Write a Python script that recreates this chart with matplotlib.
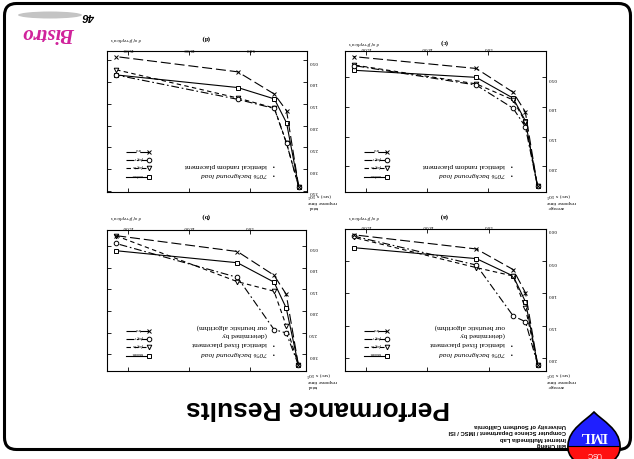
import matplotlib
matplotlib.use('Agg')
import matplotlib.pyplot as plt
from matplotlib.patches import FancyBboxPatch, PathPatch, Ellipse, Rectangle
from matplotlib.path import Path

plt.rcParams['font.family'] = ['Liberation Serif', 'DejaVu Serif']

W, H = 634, 460

# ---------------- data (upright values) ----------------
replicas = [1, 2, 3, 6, 16]
series_names = ['random', 'plug-in', 'plug-v', 'best']

a_random = [2.11, 1.13, 0.73, 0.46, 0.29]
a_plug_in = [2.11, 1.23, 0.73, 0.60, 0.13]
a_plug_v = [2.11, 1.44, 1.35, 0.56, 0.11]
a_best = [2.11, 0.99, 0.63, 0.31, 0.09]

b_random = [3.25, 1.93, 1.33, 0.88, 0.60]
b_plug_in = [3.25, 2.34, 1.54, 1.32, 0.25]
b_plug_v = [3.25, 2.51, 2.43, 1.22, 0.43]
b_best = [3.25, 1.61, 1.17, 0.62, 0.25]

c_random = [2.34, 1.23, 0.85, 0.50, 0.38]
c_plug_in = [2.34, 1.25, 0.88, 0.61, 0.29]
c_plug_v = [2.34, 1.33, 1.02, 0.63, 0.30]
c_best = [2.34, 1.08, 0.75, 0.35, 0.15]

d_random = [3.41, 1.94, 1.39, 1.13, 0.84]
d_plug_in = [3.41, 2.40, 1.60, 1.37, 0.72]
d_plug_v = [3.41, 2.41, 1.61, 1.40, 0.84]
d_best = [3.41, 1.66, 1.28, 0.77, 0.42]

x_ticks = [5, 10, 15]
yticks_a = [0.0, 0.5, 1.0, 1.5, 2.0]
yticks_b = [0.5, 1.0, 1.5, 2.0, 2.5, 3.0]
yticks_c = [0.5, 1.0, 1.5, 2.0]
yticks_d = [0.5, 1.0, 1.5, 2.0, 2.5, 3.0, 3.5]

panel_labels = ['(a)', '(b)', '(c)', '(d)']
x_label = "# of \u03b2-replica's"
ylabel_avg = ['average', 'response time', '(sec) x 10\u00b3']
ylabel_tot = ['total', 'response time', '(sec) x 10\u00b3']
note_fixed = ['70% background load', 'identical fixed placement', '(determined by', 'our heuristic algorithm)']
note_random = ['70% background load', 'identical random placement']

title = 'Performance Results'
author_lines = ['Bill Cheng', 'Internet Multimedia Lab',
                'Computer Science Department / IMSC / ISI',
                'University of Southern California']
page_no = '46'
brand = 'Bistro'

# ---------------- styles ----------------
styles = {
    'random': dict(ls='-', marker='s'),
    'plug-in': dict(ls=(0, (4, 3)), marker='v'),
    'plug-v': dict(ls=(0, (7, 2.5, 1.5, 2.5)), marker='o'),
    'best': dict(ls=(0, (9, 3.5)), marker='x'),
}

panels = [
    dict(rect=(344.7, 230.0, 545.7, 372.3), ylim=(0.0, 2.21), yticks=yticks_a,
         data=[a_random, a_plug_in, a_plug_v, a_best], label=panel_labels[0],
         ylab=ylabel_avg, note=note_fixed, lab_dy=14),
    dict(rect=(106.7, 231.0, 306.3, 372.3), ylim=(0.12, 3.40), yticks=yticks_b,
         data=[b_random, b_plug_in, b_plug_v, b_best], label=panel_labels[1],
         ylab=ylabel_tot, note=note_fixed, lab_dy=15),
    dict(rect=(344.7, 51.7, 545.5, 193.3), ylim=(0.05, 2.44), yticks=yticks_c,
         data=[c_random, c_plug_in, c_plug_v, c_best], label=panel_labels[2],
         ylab=ylabel_avg, note=note_random, lab_dy=10),
    dict(rect=(106.7, 52.3, 306.7, 193.3), ylim=(0.30, 3.53), yticks=yticks_d,
         data=[d_random, d_plug_in, d_plug_v, d_best], label=panel_labels[3],
         ylab=ylabel_tot, note=note_random, lab_dy=14),
]

fig = plt.figure(figsize=(W / 100, H / 100), dpi=100)
fig.patch.set_facecolor('white')

for p in panels:
    L, T, R, B = p['rect']
    ax = fig.add_axes([L / W, 1 - B / H, (R - L) / W, (B - T) / H])
    for name, vals in zip(series_names, p['data']):
        st = styles[name]
        ax.plot(replicas, vals, color='black', lw=0.8, ls=st['ls'],
                marker=st['marker'], ms=3.3, mfc='white', mec='black', mew=0.7)
    # whole chart is upside-down: invert both axes
    ax.set_xlim(16.73, 0.35)
    ax.set_ylim(p['ylim'][1], p['ylim'][0])
    ax.set_xticks(x_ticks)
    ax.set_xticklabels(['%.2f' % v for v in x_ticks])
    ax.set_yticks(p['yticks'])
    ax.set_yticklabels(['%.2f' % v for v in p['yticks']])
    ax.tick_params(axis='x', direction='in', top=True, bottom=True,
                   labeltop=True, labelbottom=False, labelrotation=180,
                   length=3, width=0.6, labelsize=3.6, pad=1.2)
    ax.tick_params(axis='y', direction='in', left=True, right=True,
                   labelright=True, labelleft=False, labelrotation=180,
                   length=3, width=0.6, labelsize=3.6, pad=1.5)
    for s in ax.spines.values():
        s.set_linewidth(0.8)
    # legend (drawn in axes fraction coords)
    w_ax, h_ax = R - L, B - T
    rows = {'best': 40.6, 'plug-v': 32.2, 'plug-in': 24.0, 'random': 15.6}
    for name in series_names:
        st = styles[name]
        yy = rows[name] / h_ax
        x0, x1 = 19.5 / w_ax, 42.5 / w_ax
        ax.plot([x0, x1], [yy, yy], transform=ax.transAxes, color='black',
                lw=0.8, ls=st['ls'])
        ax.plot([x1], [yy], transform=ax.transAxes, color='black', ls='none',
                marker=st['marker'], ms=3.3, mfc='white', mec='black', mew=0.7)
        ax.text((x0 + x1) / 2, yy + 3.2 / h_ax, name, transform=ax.transAxes,
                fontsize=2.6, rotation=180, ha='center', va='center')

# ---------------- overlay in image pixel coordinates ----------------
ov = fig.add_axes([0, 0, 1, 1], zorder=10)
ov.set_xlim(0, W)
ov.set_ylim(H, 0)
ov.axis('off')
ov.patch.set_alpha(0)

for p in panels:
    L, T, R, B = p['rect']
    ov.text(L + 99, T - p['lab_dy'], p['label'], rotation=180, ha='center',
            va='center', fontsize=5, fontweight='bold')
    ov.text(L + 19.5, T - p['lab_dy'] + 1, x_label, rotation=180, ha='center',
            va='center', fontsize=3.6, style='italic')
    for line, dy in zip(p['ylab'], [14.2, 8.8, 3.4]):
        ov.text(R + 1.5, B + dy, line, rotation=180, ha='left', va='center',
                fontsize=3.8)
    for i, (line, dy) in enumerate(zip(p['note'], [19, 28, 37, 45.8])):
        ov.text(L + 160, B - dy, line, rotation=180, ha='right', va='center',
                fontsize=5.3, style='italic' if i == 0 else 'normal')
        if i < 2:
            ov.text(L + 166.5, B - dy, '\u2022', rotation=180, ha='center',
                    va='center', fontsize=5)

# frame
frame = FancyBboxPatch((4.5, 4.5), 626, 446,
                       boxstyle='round,pad=0,rounding_size=12',
                       fill=False, lw=2.2, ec='black', zorder=5)
ov.add_patch(frame)

# title and author block
ov.text(318, 408, title, rotation=180, ha='center', va='center',
        fontsize=19, fontweight='bold', family='Liberation Sans')
for line, yy in zip(author_lines, [445, 438.5, 432, 425.5]):
    ov.text(566, yy, line, rotation=180, ha='right', va='center', fontsize=4.2,
            fontweight='bold', family='Liberation Sans')

# IML logo (shield)
verts = [(574, 461), (567, 455), (568, 446),
         (569, 430), (585, 422), (594, 413),
         (603, 422), (619, 430), (620, 446),
         (621, 455), (614, 461), (574, 461)]
codes = [Path.MOVETO, Path.CURVE3, Path.CURVE3,
         Path.CURVE4, Path.CURVE4, Path.CURVE4,
         Path.CURVE4, Path.CURVE4, Path.CURVE4,
         Path.CURVE3, Path.CURVE3, Path.CLOSEPOLY]
shield_path = Path(verts, codes)
blue = PathPatch(shield_path, fc='#1f1fff', ec='none', zorder=20)
ov.add_patch(blue)
red = Rectangle((560, 447), 70, 16, fc='#ff1010', ec='none', zorder=21)
ov.add_patch(red)
red.set_clip_path(blue)
sep, = ov.plot([567, 621], [447, 447], color='black', lw=0.8, zorder=22)
sep.set_clip_path(blue)
outline = PathPatch(shield_path, fc='none', ec='black', lw=1.2, zorder=23)
ov.add_patch(outline)
ov.text(594, 436, 'IML', rotation=180, ha='center', va='center', fontsize=10,
        fontweight='bold', color='white', zorder=24)
ov.text(594, 453.5, 'USC', rotation=180, ha='center', va='center', fontsize=5.2,
        color='white', family='Liberation Sans', zorder=24)

# Bistro brand, streak and page number
ov.add_patch(Ellipse((50, 16), 64, 7, fc='#c4c4c4', ec='none', zorder=4))
ov.text(49, 33, brand, rotation=180, ha='center', va='center', fontsize=15,
        fontweight='bold', style='italic', color='#d0229b')
ov.text(89, 16, page_no, rotation=180, ha='center', va='center', fontsize=8,
        fontweight='bold', style='italic', family='Liberation Sans')

fig.savefig('out.png', dpi=100)
